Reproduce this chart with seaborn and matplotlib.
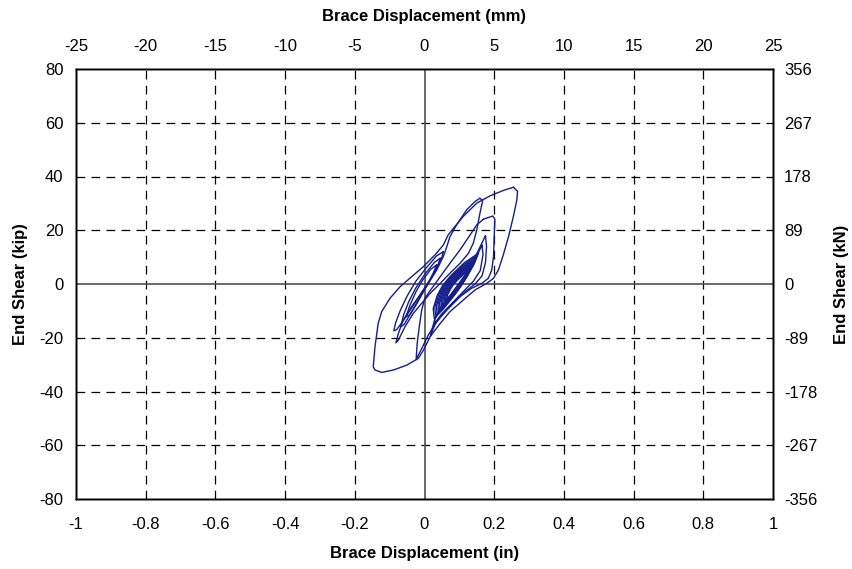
import matplotlib
matplotlib.use("Agg")
import matplotlib.pyplot as plt
import pandas as pd
import seaborn as sns

# axis ticks
x_ticks = [-1, -0.8, -0.6, -0.4, -0.2, 0, 0.2, 0.4, 0.6, 0.8, 1]
x_labels = ["-1", "-0.8", "-0.6", "-0.4", "-0.2", "0", "0.2", "0.4", "0.6", "0.8", "1"]
y_ticks = [-80, -60, -40, -20, 0, 20, 40, 60, 80]
mm_ticks = [-25, -20, -15, -10, -5, 0, 5, 10, 15, 20, 25]
kn_ticks = [-356, -267, -178, -89, 0, 89, 178, 267, 356]

# hysteresis loops: (displacement in, shear kip)
core_10 = [(0.128, 5.1), (0.1112, 3.5), (0.0939, 1.36), (0.083, -0.25), (0.0747, -1.86), (0.0664, -3.99), (0.064, -5.6),
           (0.0764, -3.99), (0.0909, -1.86), (0.101, -0.25), (0.1101, 1.36), (0.1212, 3.5), (0.128, 5.1)]
core_9 = [(0.131, 5.8), (0.1116, 3.97), (0.0918, 1.53), (0.0795, -0.3), (0.0705, -2.13), (0.0619, -4.57), (0.06, -6.4),
          (0.074, -4.57), (0.0903, -2.13), (0.1015, -0.3), (0.1116, 1.53), (0.1237, 3.97), (0.131, 5.8)]
core_8 = [(0.134, 6.5), (0.1118, 4.45), (0.0896, 1.7), (0.076, -0.35), (0.0662, -2.41), (0.0572, -5.15), (0.056, -7.2),
          (0.0716, -5.15), (0.0896, -2.41), (0.102, -0.35), (0.113, 1.7), (0.1262, 4.45), (0.134, 6.5)]
core_7 = [(0.137, 7.2), (0.1122, 4.92), (0.0875, 1.88), (0.0725, -0.4), (0.062, -2.68), (0.0527, -5.72), (0.052, -8.0),
          (0.0692, -5.72), (0.089, -2.68), (0.1025, -0.4), (0.1145, 1.88), (0.1287, 4.92), (0.137, 7.2)]
core_6 = [(0.14, 7.9), (0.1124, 5.4), (0.0853, 2.06), (0.069, -0.45), (0.0577, -2.96), (0.048, -6.3), (0.048, -8.8),
          (0.0668, -6.3), (0.0883, -2.96), (0.103, -0.45), (0.1159, 2.06), (0.1312, 5.4), (0.14, 7.9)]
core_5 = [(0.143, 8.6), (0.1126, 5.87), (0.0832, 2.23), (0.0655, -0.5), (0.0535, -3.23), (0.0435, -6.87), (0.044, -9.6),
          (0.0644, -6.87), (0.0877, -3.23), (0.1035, -0.5), (0.1174, 2.23), (0.1335, 5.87), (0.143, 8.6)]
core_4 = [(0.146, 9.3), (0.113, 6.35), (0.0811, 2.41), (0.062, -0.55), (0.0492, -3.5), (0.0389, -7.45), (0.04, -10.4),
          (0.0619, -7.45), (0.087, -3.5), (0.104, -0.55), (0.1189, 2.41), (0.136, 6.35), (0.146, 9.3)]
core_3 = [(0.149, 10.0), (0.1133, 6.82), (0.0789, 2.58), (0.0585, -0.6), (0.045, -3.78), (0.0343, -8.02), (0.036, -11.2),
          (0.0596, -8.02), (0.0864, -3.78), (0.1045, -0.6), (0.1203, 2.58), (0.1386, 6.82), (0.149, 10.0)]
core_2 = [(0.152, 10.8), (0.1136, 7.38), (0.0767, 2.82), (0.055, -0.6), (0.0407, -4.02), (0.0296, -8.58), (0.032, -12.0),
          (0.0572, -8.58), (0.0857, -4.02), (0.105, -0.6), (0.1217, 2.82), (0.1412, 7.38), (0.152, 10.8)]
core_1 = [(0.155, 11.5), (0.114, 7.86), (0.0745, 3.0), (0.0515, -0.65), (0.0364, -4.3), (0.025, -9.16), (0.028, -12.8),
          (0.0547, -9.16), (0.085, -4.3), (0.1055, -0.65), (0.1231, 3.0), (0.1437, 7.86), (0.155, 11.5)]

neg_3 = [(0.035, 7.1), (0.018, 5.5), (-0.005, 1.5), (-0.025, -3.0), (-0.042, -8.0), (-0.053, -12.2), (-0.042, -11.5),
         (-0.025, -8.0), (-0.008, -4.0), (0.01, 0.0), (0.025, 4.0), (0.035, 7.1)]
neg_2 = [(0.045, 9.6), (0.028, 8.0), (0.0, 3.5), (-0.025, -1.5), (-0.045, -6.5), (-0.06, -11.5), (-0.068, -15.9),
         (-0.058, -15.0), (-0.04, -11.0), (-0.018, -6.0), (0.005, -1.0), (0.025, 3.5), (0.04, 7.5), (0.045, 9.6)]
neg_1 = [(0.054, 12.0), (0.035, 10.5), (0.005, 6.0), (-0.025, 1.0), (-0.05, -4.5), (-0.07, -10.0), (-0.083, -14.5),
         (-0.088, -17.4), (-0.08, -17.0), (-0.06, -13.5), (-0.035, -8.5), (-0.01, -3.5), (0.015, 1.5), (0.035, 6.0),
         (0.05, 10.0), (0.054, 12.0)]

loop_f = [(0.165, 14.5), (0.168, 11.0), (0.16, 5.0), (0.14, 1.0), (0.11, -3.0), (0.08, -7.0), (0.05, -11.0),
          (0.03, -14.5), (0.026, -16.0), (0.03, -13.0), (0.045, -9.0), (0.07, -5.0), (0.095, -1.0), (0.12, 3.5),
          (0.145, 9.0), (0.165, 14.5)]
loop_e = [(0.175, 18.0), (0.178, 14.0), (0.175, 8.0), (0.165, 3.0), (0.145, 0.0), (0.115, -3.0), (0.08, -7.5),
          (0.05, -11.5), (0.03, -15.0), (0.017, -19.5), (0.02, -17.5), (0.03, -13.0), (0.05, -8.5), (0.075, -4.0),
          (0.1, 0.5), (0.125, 5.0), (0.145, 10.0), (0.162, 14.5), (0.175, 18.0)]

loop_c = [(0.159, 31.9), (0.167, 31.0), (0.159, 26.3), (0.15, 20.1), (0.14, 15.2), (0.126, 11.4), (0.102, 7.7),
          (0.073, 4.0), (0.045, 0.2), (0.016, -3.5), (-0.008, -7.2), (-0.032, -10.9), (-0.056, -15.9),
          (-0.075, -20.9), (-0.082, -21.9), (-0.075, -18.4), (-0.061, -13.4), (-0.037, -8.4), (-0.013, -4.1),
          (0.011, 0.2), (0.035, 5.2), (0.054, 10.2), (0.064, 13.9), (0.073, 17.6), (0.092, 22.0), (0.121, 27.6),
          (0.145, 30.7), (0.159, 31.9)]

loop_b = [(0.169, 24.1), (0.196, 25.3), (0.202, 24.1), (0.2, 17.6), (0.198, 10.2), (0.193, 5.2), (0.183, 2.1),
          (0.164, 0.2), (0.135, -1.6), (0.102, -4.7), (0.064, -9.7), (0.035, -14.0), (0.011, -19.0),
          (-0.008, -24.0), (-0.024, -28.1), (-0.021, -22.1), (-0.015, -15.9), (-0.008, -9.7), (0.001, -5.3),
          (0.021, -1.6), (0.045, 2.7), (0.073, 7.7), (0.102, 12.7), (0.131, 18.3), (0.15, 22.0), (0.169, 24.1)]

loop_a = [(0.255, 36.0), (0.267, 34.5), (0.265, 31.3), (0.255, 25.1), (0.241, 17.6), (0.226, 10.8), (0.212, 5.2),
          (0.198, 2.1), (0.178, 0.2), (0.145, -2.2), (0.111, -6.0), (0.073, -10.3), (0.045, -14.7),
          (0.016, -19.6), (-0.003, -24.6), (-0.018, -27.7), (-0.051, -30.2), (-0.089, -32.0), (-0.123, -32.9),
          (-0.142, -32.0), (-0.147, -30.8), (-0.142, -23.3), (-0.133, -14.7), (-0.123, -10.3), (-0.099, -5.3),
          (-0.07, -1.0), (-0.037, 2.7), (-0.003, 6.5), (0.03, 10.8), (0.054, 14.5), (0.068, 18.3), (0.083, 20.7),
          (0.111, 25.1), (0.15, 30.1), (0.188, 32.8), (0.226, 34.8), (0.255, 36.0)]

loops = [core_10, core_9, core_8, core_7, core_6, core_5, core_4, core_3, core_2, core_1,
         neg_3, neg_2, neg_1, loop_f, loop_e, loop_c, loop_b, loop_a]

rows = []
for i, lp in enumerate(loops):
    for j, (dx, v) in enumerate(lp):
        rows.append({"loop": i, "order": j, "disp": dx, "shear": v})
df = pd.DataFrame(rows)

sns.set_style("white")
plt.rcParams["font.family"] = ["Liberation Sans", "DejaVu Sans"]
plt.rcParams["text.color"] = "black"
plt.rcParams["axes.labelcolor"] = "black"
plt.rcParams["xtick.color"] = "black"
plt.rcParams["ytick.color"] = "black"

fig = plt.figure(figsize=(8.52, 5.69), dpi=100)
ax = fig.add_axes([76 / 852, 1 - 499 / 569, 697 / 852, 430 / 569])

# dashed grid, solid zero lines
for t in x_ticks[1:-1]:
    if t != 0:
        ax.axvline(t, color="black", lw=0.9, ls=(0, (7, 5)), zorder=1)
for t in y_ticks[1:-1]:
    if t != 0:
        ax.axhline(t, color="black", lw=0.9, ls=(0, (7, 5)), zorder=1)
ax.axvline(0, color="#505050", lw=1.2, zorder=1)
ax.axhline(0, color="#505050", lw=1.2, zorder=1)

sns.lineplot(data=df, x="disp", y="shear", units="loop", estimator=None, sort=False,
             color="#141e8c", lw=1, ax=ax, zorder=3)

ax.set_xlim(-1, 1)
ax.set_ylim(-80, 80)
ax.set_xticks(x_ticks)
ax.set_xticklabels(x_labels)
ax.set_yticks(y_ticks)
ax.set_yticklabels([str(v) for v in y_ticks])
ax.tick_params(axis="x", length=0, pad=13, labelsize=12)
ax.tick_params(axis="y", length=0, pad=9, labelsize=12)
ax.set_xlabel("Brace Displacement (in)", fontsize=12, fontweight="bold", labelpad=10)
ax.set_ylabel("End Shear (kip)", fontsize=12, fontweight="bold", labelpad=8)

ax_top = ax.twiny()
ax_top.set_xlim(-25, 25)
ax_top.set_xticks(mm_ticks)
ax_top.set_xticklabels([str(v) for v in mm_ticks])
ax_top.tick_params(axis="x", length=0, pad=11, labelsize=12)
ax_top.set_xlabel("Brace Displacement (mm)", fontsize=12, fontweight="bold", labelpad=13)

ax_right = ax.twinx()
ax_right.set_ylim(-356, 356)
ax_right.set_yticks(kn_ticks)
ax_right.set_yticklabels([str(v) for v in kn_ticks])
ax_right.tick_params(axis="y", length=0, pad=8, labelsize=12)
ax_right.set_ylabel("End Shear (kN)", fontsize=12, fontweight="bold", labelpad=12)

for a in (ax, ax_top, ax_right):
    for s in a.spines.values():
        s.set_color("black")
        s.set_linewidth(1)
    a.grid(False)

fig.savefig("out.png", dpi=100)
